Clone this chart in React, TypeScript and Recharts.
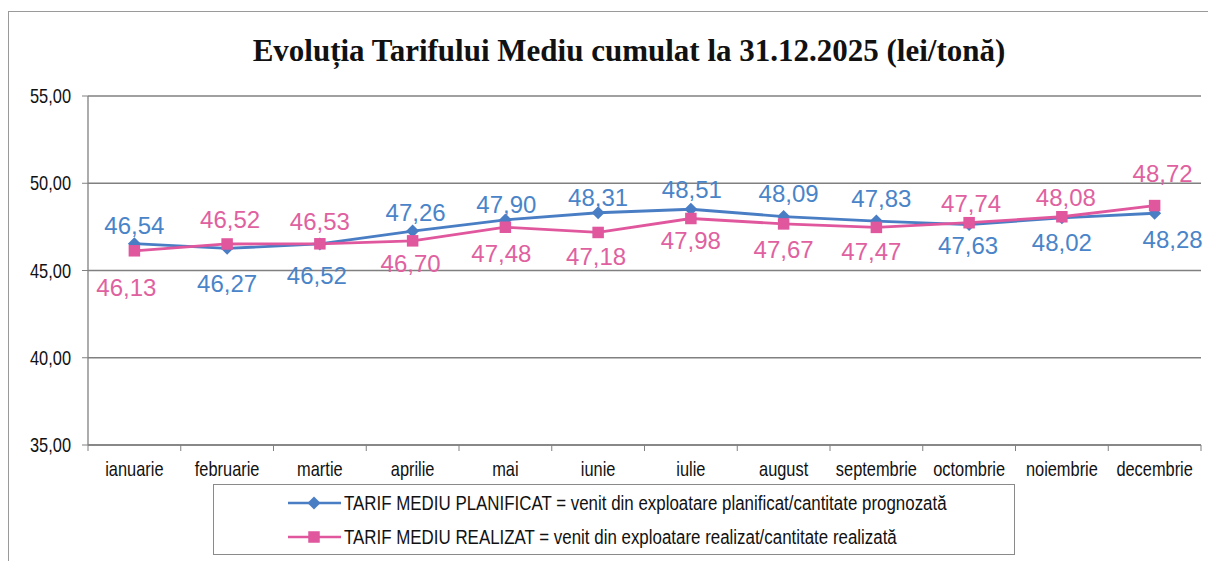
import { CartesianGrid, Line, LineChart, XAxis, YAxis } from "recharts"

const MONTHS = [
  "ianuarie", "februarie", "martie", "aprilie", "mai", "iunie",
  "iulie", "august", "septembrie", "octombrie", "noiembrie", "decembrie",
]
const PLANIFICAT = [46.54, 46.27, 46.52, 47.26, 47.9, 48.31, 48.51, 48.09, 47.83, 47.63, 48.02, 48.28]
const REALIZAT = [46.13, 46.52, 46.53, 46.7, 47.48, 47.18, 47.98, 47.67, 47.47, 47.74, 48.08, 48.72]
const Y_TICKS = [35, 40, 45, 50, 55]

const TITLE = "Evoluția Tarifului Mediu cumulat la 31.12.2025 (lei/tonă)"
const LEGEND_PLAN = "TARIF MEDIU PLANIFICAT = venit din exploatare planificat/cantitate prognozată"
const LEGEND_REAL = "TARIF MEDIU REALIZAT = venit din exploatare realizat/cantitate realizată"

// label placement (offset of label centre from the point), as placed in the original
const PLAN_LABEL_DY = [-18, 35, 32, -19, -15, -15, -20, -23, -23, 21, 25, 26]
const PLAN_LABEL_DX = [0, 0, -3, 3, 1, 0, 1, 5, 5, -1, 0, 18]
const REAL_LABEL_DY = [37, -24, -22, 23, 26, 24, 22, 26, 24, -19, -19, -32]
const REAL_LABEL_DX = [-8, 3, 0, -2, -4, -2, 0, 0, -5, 2, 4, 8]

const BLUE = "#4a7ec4"
const PINK = "#e0579e"
const BLUE_TEXT = "#4a84c8"
const PINK_TEXT = "#e0619f"
const GRID = "#808080"
const SANS = "'Liberation Sans', Arial, sans-serif"
const NARROW_SCALE = 0.82 // Arial Narrow look-alike

const data = MONTHS.map((month, i) => ({ month, plan: PLANIFICAT[i], real: REALIZAT[i] }))

const fmt = (v: number) => v.toFixed(2).replace(".", ",")

function Diamond({ cx, cy, color }: { cx?: number; cy?: number; color: string }) {
  if (cx == null || cy == null) return null
  const r = 6.5
  return <polygon points={`${cx},${cy - r} ${cx + r},${cy} ${cx},${cy + r} ${cx - r},${cy}`} fill={color} />
}

function Square({ cx, cy, color }: { cx?: number; cy?: number; color: string }) {
  if (cx == null || cy == null) return null
  const s = 11.5
  return <rect x={cx - s / 2} y={cy - s / 2} width={s} height={s} fill={color} />
}

function makeLabel(color: string, dxs: number[], dys: number[]) {
  return (props: any) => {
    const { x, y, value, index } = props
    if (x == null || y == null) return null
    return (
      <text
        key={`l-${index}`}
        x={x + dxs[index]}
        y={y + dys[index]}
        textAnchor="middle"
        dominantBaseline="central"
        fill={color}
        fontFamily={SANS}
        fontSize={24}
      >
        {fmt(value)}
      </text>
    )
  }
}

function MonthTick(props: any) {
  const { x, y, payload, index } = props
  const half = payload.offset || 46.4
  const axisY = y - 8
  return (
    <g>
      <line x1={x - half} y1={axisY} x2={x - half} y2={axisY + 6} stroke={GRID} />
      {index === MONTHS.length - 1 && (
        <line x1={x + half} y1={axisY} x2={x + half} y2={axisY + 6} stroke={GRID} />
      )}
      <text
        transform={`translate(${x},${y + 23}) scale(${NARROW_SCALE},1)`}
        textAnchor="middle"
        fontFamily={SANS}
        fontSize={20}
        fill="#111"
      >
        {payload.value}
      </text>
    </g>
  )
}

function ValueTick(props: any) {
  const { x, y, payload } = props
  return (
    <text
      transform={`translate(${x},${y}) scale(${NARROW_SCALE},1)`}
      textAnchor="end"
      dominantBaseline="central"
      fontFamily={SANS}
      fontSize={20}
      fill="#111"
    >
      {fmt(payload.value)}
    </text>
  )
}

function LegendRow({ label, color, marker }: { label: string; color: string; marker: "diamond" | "square" }) {
  return (
    <div style={{ display: "flex", alignItems: "center", height: 34 }}>
      <svg width={58} height={20} style={{ marginLeft: 72, flexShrink: 0 }}>
        <line x1={2} y1={10} x2={55} y2={10} stroke={color} strokeWidth={2.5} />
        {marker === "diamond" ? <Diamond cx={28} cy={10} color={color} /> : <Square cx={28} cy={10} color={color} />}
      </svg>
      <span
        style={{
          display: "inline-block",
          fontFamily: SANS,
          fontSize: 20,
          color: "#111",
          marginLeft: 0,
          whiteSpace: "nowrap",
          transform: "scaleX(0.845)",
          transformOrigin: "left center",
        }}
      >
        {label}
      </span>
    </div>
  )
}

export default function App() {
  return (
    <div style={{ position: "absolute", left: 0, top: 0, width: 1208, height: 561, overflow: "hidden", background: "#fff" }}>
      <div style={{ position: "absolute", left: 8, top: 11, width: 1230, height: 600, border: "1.5px solid #9a9a9a" }} />
      <div
        style={{
          position: "absolute",
          left: 0,
          top: 33,
          width: 1258,
          textAlign: "center",
          fontFamily: "'Liberation Serif', 'Times New Roman', serif",
          fontWeight: "bold",
          fontSize: 31,
          color: "#111",
        }}
      >
        {TITLE}
      </div>
      <div style={{ position: "absolute", left: 0, top: 0 }}>
        <LineChart width={1208} height={561} data={data} margin={{ top: 96, right: 7, bottom: 86, left: 8 }}>
          <CartesianGrid vertical={false} stroke={GRID} strokeWidth={1.3} />
          <XAxis
            dataKey="month"
            scale="band"
            height={30}
            interval={0}
            tickLine={false}
            tickSize={6}
            tickMargin={2}
            axisLine={{ stroke: GRID, strokeWidth: 1.3 }}
            tick={<MonthTick />}
          />
          <YAxis
            width={80}
            domain={[35, 55]}
            ticks={Y_TICKS}
            interval={0}
            tickSize={6}
            tickMargin={11}
            tickLine={{ stroke: GRID }}
            axisLine={{ stroke: GRID, strokeWidth: 1.3 }}
            tick={<ValueTick />}
          />
          <Line
            dataKey="plan"
            stroke={BLUE}
            strokeWidth={2.8}
            isAnimationActive={false}
            dot={(p: any) => <Diamond key={`d-${p.index}`} cx={p.cx} cy={p.cy} color={BLUE} />}
            activeDot={false}
            label={makeLabel(BLUE_TEXT, PLAN_LABEL_DX, PLAN_LABEL_DY)}
          />
          <Line
            dataKey="real"
            stroke={PINK}
            strokeWidth={2.8}
            isAnimationActive={false}
            dot={(p: any) => <Square key={`s-${p.index}`} cx={p.cx} cy={p.cy} color={PINK} />}
            activeDot={false}
            label={makeLabel(PINK_TEXT, REAL_LABEL_DX, REAL_LABEL_DY)}
          />
        </LineChart>
      </div>
      <div
        style={{
          position: "absolute",
          left: 213,
          top: 484,
          width: 802,
          height: 71,
          border: "1.5px solid #8a8a8a",
          boxSizing: "border-box",
          paddingTop: 1,
        }}
      >
        <LegendRow label={LEGEND_PLAN} color={BLUE} marker="diamond" />
        <LegendRow label={LEGEND_REAL} color={PINK} marker="square" />
      </div>
    </div>
  )
}
